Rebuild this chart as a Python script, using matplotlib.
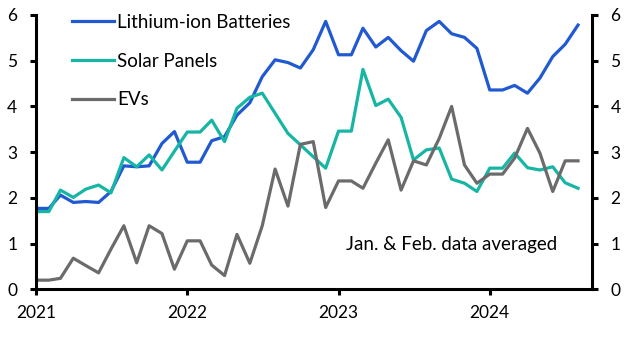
import pandas as pd
import matplotlib
matplotlib.use('Agg')
import matplotlib.pyplot as plt
import matplotlib.dates as mdates

plt.rcParams['font.family'] = ['Lato', 'DejaVu Sans']

# Données mensuelles (janv. 2021 -> août 2024)
dates = pd.date_range('2021-01-01', '2024-08-01', freq='MS')

lithium = [1.77, 1.77, 2.06, 1.90, 1.92, 1.90, 2.14, 2.70, 2.68, 2.70, 3.19, 3.45,
           2.78, 2.78, 3.25, 3.34, 3.81, 4.08, 4.65, 5.02, 4.96, 4.84, 5.24, 5.86,
           5.13, 5.13, 5.71, 5.30, 5.51, 5.22, 4.99, 5.66, 5.86, 5.59, 5.51, 5.27,
           4.36, 4.36, 4.46, 4.29, 4.62, 5.09, 5.36, 5.78]

solar = [1.70, 1.70, 2.17, 2.01, 2.19, 2.28, 2.11, 2.88, 2.68, 2.94, 2.61, 3.02,
         3.44, 3.44, 3.70, 3.23, 3.96, 4.20, 4.29, 3.85, 3.41, 3.16, 2.90, 2.65,
         3.46, 3.46, 4.81, 4.02, 4.16, 3.76, 2.83, 3.05, 3.09, 2.41, 2.32, 2.14,
         2.65, 2.65, 2.98, 2.66, 2.61, 2.68, 2.33, 2.21]

evs = [0.20, 0.20, 0.24, 0.68, 0.52, 0.36, 0.88, 1.39, 0.58, 1.39, 1.22, 0.44,
       1.06, 1.06, 0.53, 0.30, 1.20, 0.57, 1.39, 2.63, 1.82, 3.17, 3.23, 1.79,
       2.37, 2.37, 2.21, 2.76, 3.27, 2.17, 2.81, 2.72, 3.30, 4.00, 2.72, 2.32,
       2.52, 2.52, 2.87, 3.52, 2.98, 2.14, 2.81, 2.81]

fig = plt.figure(figsize=(6.34, 3.42), dpi=100)
ax = fig.add_axes([36 / 634, 52.7 / 342, 555.7 / 634, 274.3 / 342])

ax.plot(dates, lithium, color='#2159d1', lw=2.3, label='Lithium-ion Batteries')
ax.plot(dates, solar, color='#17b6a4', lw=2.3, label='Solar Panels')
ax.plot(dates, evs, color='#6b6b6b', lw=2.3, label='EVs')

ax.set_ylim(0, 6)
ax.set_xlim(pd.Timestamp('2021-01-01'), pd.Timestamp('2024-09-03'))
ax.xaxis.set_major_locator(mdates.YearLocator())
ax.xaxis.set_major_formatter(mdates.DateFormatter('%Y'))

for side in ['left', 'bottom', 'right']:
    ax.spines[side].set_linewidth(2.2)
ax.spines['top'].set_visible(False)
ax.tick_params(axis='both', direction='out', length=4.5, width=2.2, labelsize=12.5, pad=7)
ax.tick_params(axis='y', right=True, labelright=True, pad=9)

ax.legend(loc='upper left', bbox_to_anchor=(0.035, 1.065), frameon=False, fontsize=13.5,
          handlelength=2.2, handletextpad=0.2, labelspacing=1.15)

ax.text(0.938, 0.134, 'Jan. & Feb. data averaged', transform=ax.transAxes,
        ha='right', va='bottom', fontsize=13.5)

fig.savefig('out.png', dpi=100)
